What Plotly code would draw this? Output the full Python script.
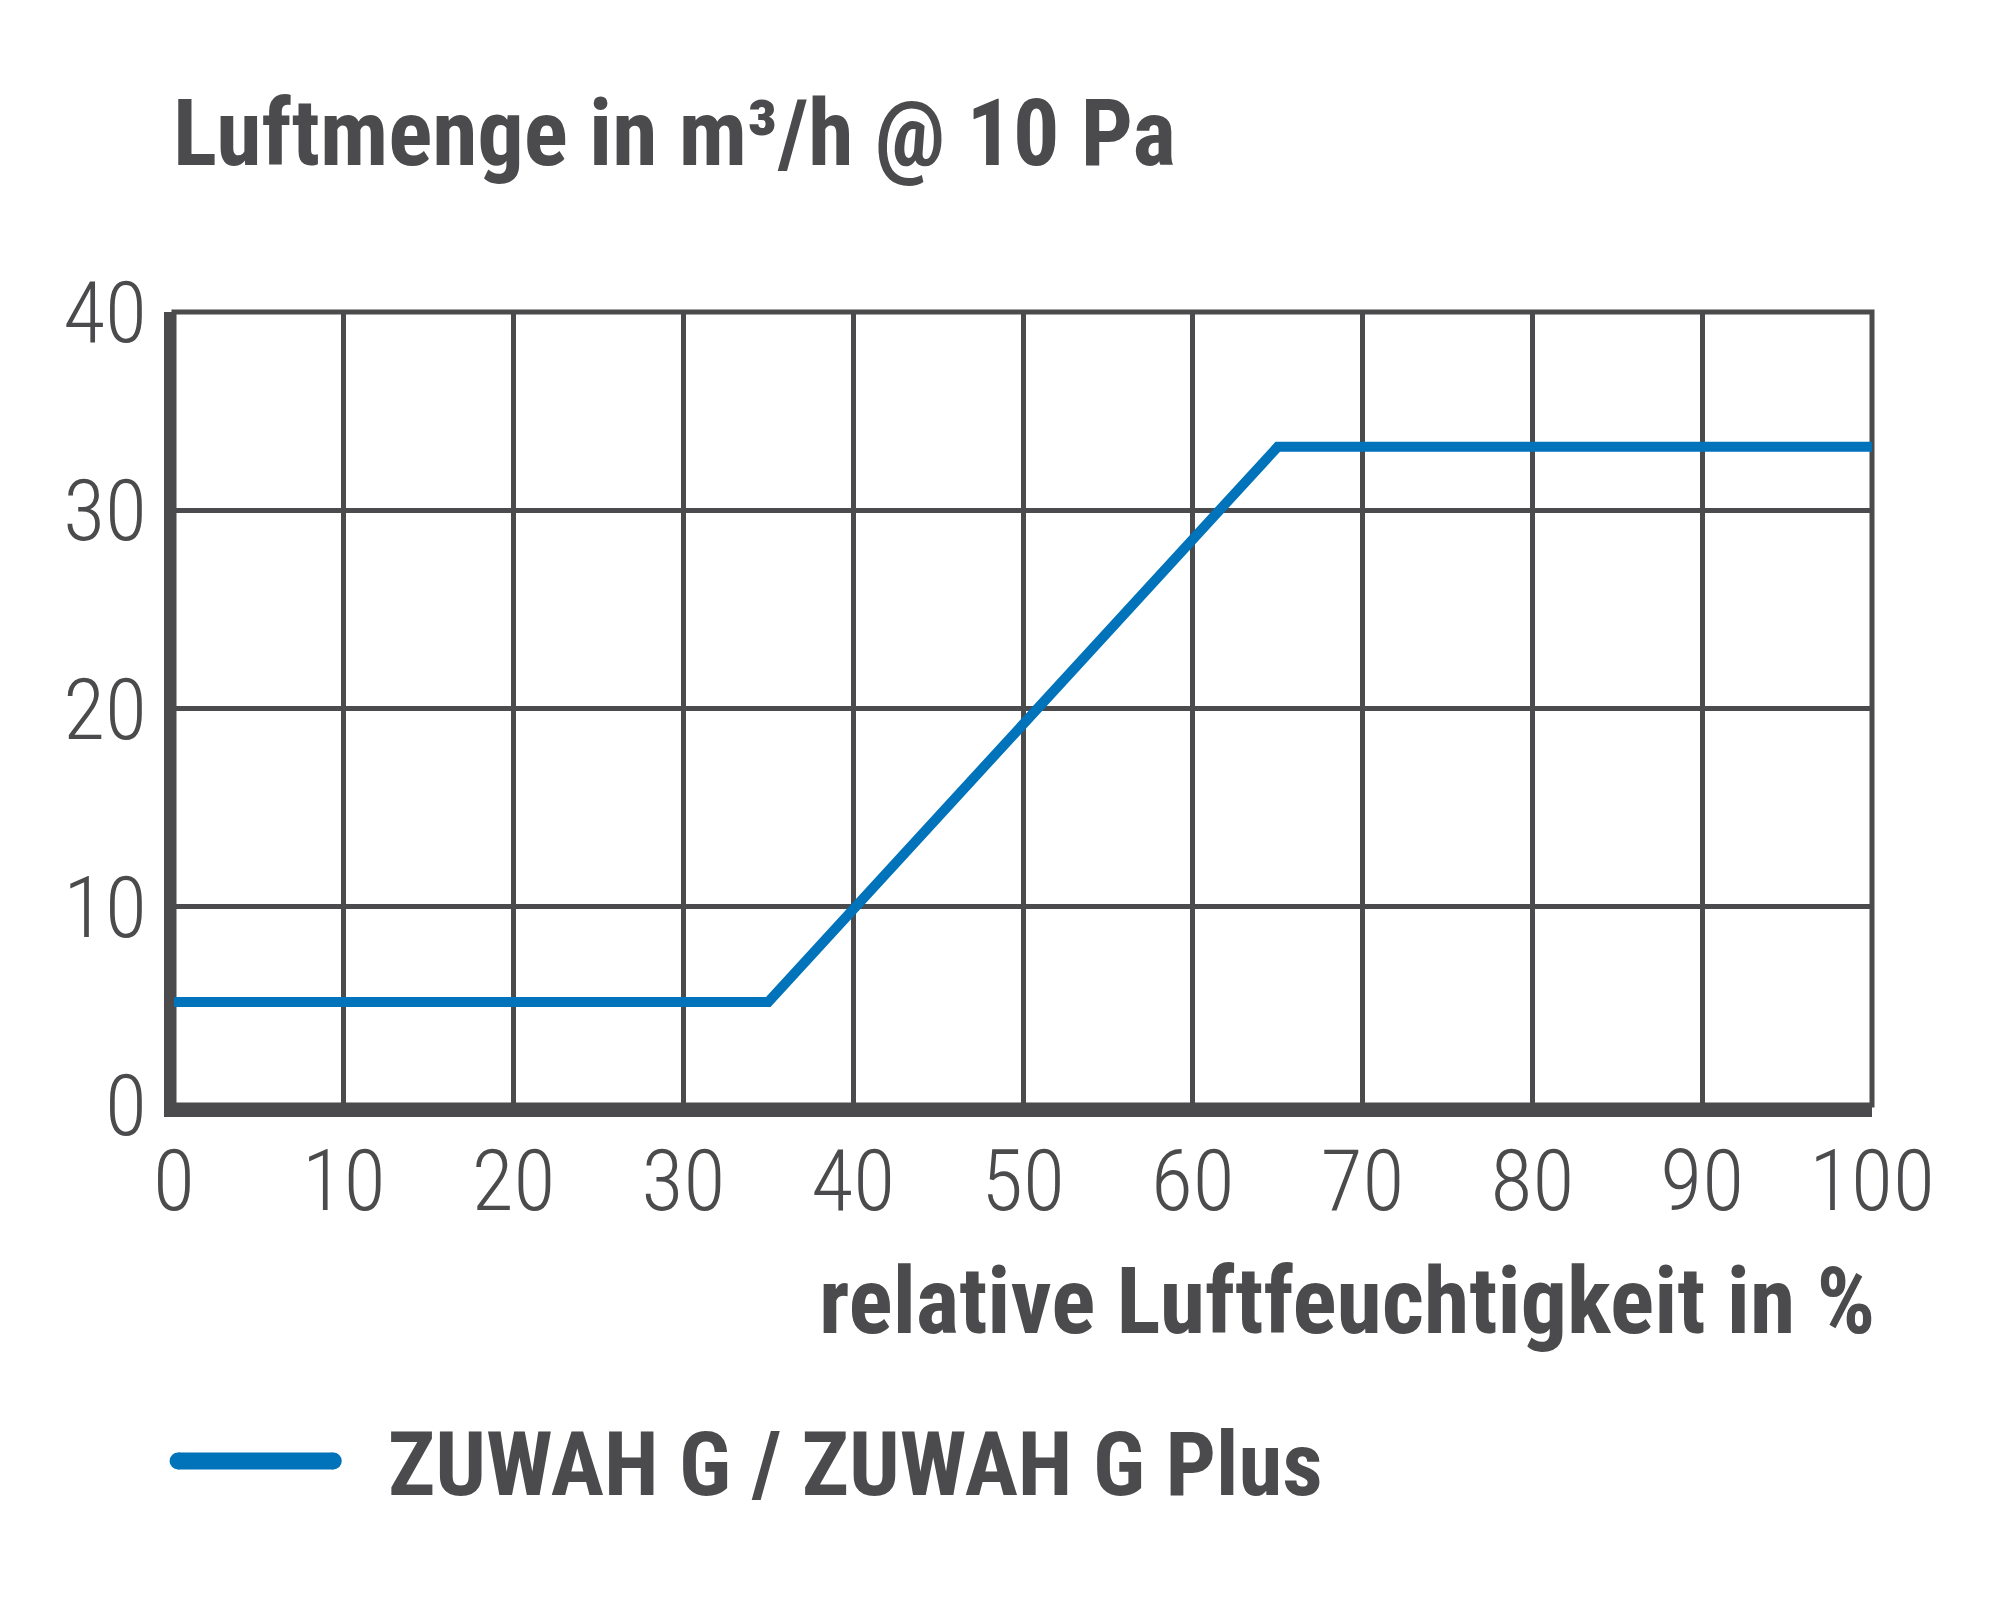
import plotly.graph_objects as go

# relative humidity (%) vs. air flow (m³/h @ 10 Pa)
humidity = [0, 35, 65, 100]
airflow = [5.2, 5.2, 33.2, 33.2]

x_ticks = [0, 10, 20, 30, 40, 50, 60, 70, 80, 90, 100]
y_ticks = [0, 10, 20, 30, 40]

series_name = "ZUWAH G / ZUWAH G Plus"
title_text = "Luftmenge in m³/h @ 10 Pa"
x_title_text = "relative Luftfeuchtigkeit in %"

TEXT = "#4b4b4d"
BLUE = "#0073ba"
COND = "Roboto Condensed, Roboto, sans-serif"

fig = go.Figure()

fig.add_trace(go.Scatter(
    x=humidity,
    y=airflow,
    mode="lines",
    name=series_name,
    line=dict(color=BLUE, width=10),
    showlegend=False,
))

fig.update_layout(
    width=2000,
    height=1601,
    margin=dict(l=166, r=136, t=304, b=504),
    paper_bgcolor="white",
    plot_bgcolor="white",
    font=dict(family=COND, color=TEXT),
    xaxis=dict(
        range=[0, 100],
        tickvals=x_ticks,
        showgrid=True,
        gridcolor=TEXT,
        gridwidth=5,
        zeroline=False,
        showline=True,
        linecolor=TEXT,
        linewidth=12,
        ticks="",
        ticklabelstandoff=-10,
        tickfont=dict(size=86, color=TEXT, family=COND, weight=300),
    ),
    yaxis=dict(
        range=[0, 40],
        tickvals=y_ticks,
        showgrid=True,
        gridcolor=TEXT,
        gridwidth=5,
        zeroline=False,
        showline=True,
        linecolor=TEXT,
        linewidth=10,
        ticks="",
        ticklabelstandoff=0,
        tickfont=dict(size=86, color=TEXT, family=COND, weight=300),
    ),
)

# top / right frame
fig.add_shape(type="rect", xref="paper", yref="paper", x0=0, x1=1, y0=0, y1=1,
              line=dict(color=TEXT, width=5), layer="below")

# title
fig.add_annotation(text="<b>" + title_text + "</b>", xref="paper", yref="paper",
                   x=-0.002, y=1.2248, xanchor="left", yanchor="middle",
                   showarrow=False, font=dict(size=92, color=TEXT, family=COND))

# x axis title
fig.add_annotation(text="<b>" + x_title_text + "</b>", xref="paper", yref="paper",
                   x=1.003, y=-0.2475, xanchor="right", yanchor="middle",
                   showarrow=False, font=dict(size=92, color=TEXT, family=COND))

# legend, drawn by hand so the sample line is long (with round ends)
leg_y = -0.449
leg_x0, leg_x1 = 0.0024, 0.0938
fig.add_shape(type="line", xref="paper", yref="paper", x0=leg_x0, x1=leg_x1,
              y0=leg_y, y1=leg_y, line=dict(color=BLUE, width=17))
for xa in (leg_x0, leg_x1):
    fig.add_shape(type="circle", xref="paper", yref="paper",
                  xsizemode="pixel", ysizemode="pixel", xanchor=xa, yanchor=leg_y,
                  x0=-8.5, x1=8.5, y0=-8.5, y1=8.5,
                  fillcolor=BLUE, line=dict(width=0))
fig.add_annotation(text="<b>" + series_name + "</b>", xref="paper", yref="paper",
                   x=0.1248, y=-0.453, xanchor="left", yanchor="middle",
                   showarrow=False, font=dict(size=89, color=TEXT, family=COND))

fig.write_html("out.html")
